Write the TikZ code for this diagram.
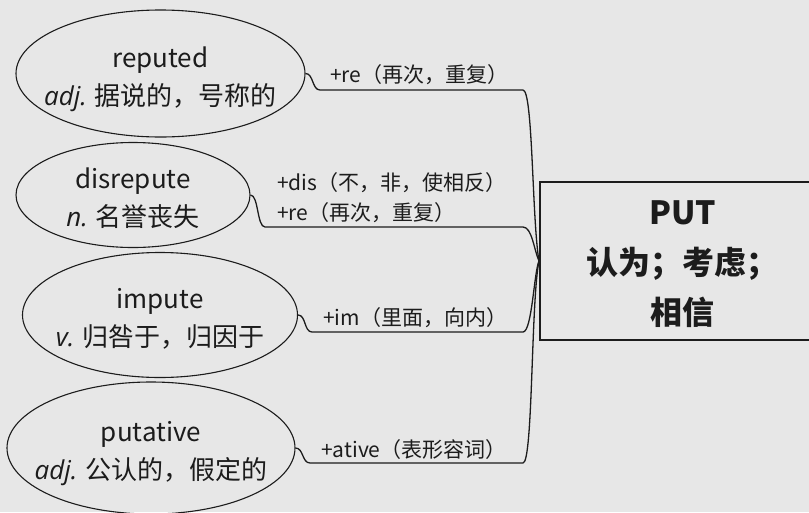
\documentclass[tikz,border=0pt]{standalone}
\usepackage{fontspec}
\setmainfont{Noto Sans CJK SC}
\newfontfamily\posfont{Open Sans}
\usetikzlibrary{shapes.geometric}
\definecolor{paper}{HTML}{E7E7E7}
\definecolor{ink}{HTML}{1C1C1C}
\newcommand{\pos}[1]{{\posfont\itshape #1}}
\tikzset{
  word/.style={ellipse, draw=ink, line width=1.1pt, inner xsep=-60pt, inner ysep=-25pt,
    text height=63pt, text depth=0pt,
    align=center, text=ink, font=\fontsize{26}{38}\selectfont},
  affix/.style={anchor=west, inner sep=0pt, align=left, text=ink,
    font=\fontsize{21}{30}\selectfont},
  link/.style={draw=ink, line width=1.3pt},
}

\begin{document}
\begin{tikzpicture}[x=1pt, y=-1pt]
  \useasboundingbox[fill=paper] (0,0) rectangle (809,512);

  % Coordinates
  \coordinate (A) at (160.5, 73.5);
  \coordinate (B) at (133.0, 195.0);
  \coordinate (C) at (160.0, 315.0);
  \coordinate (D) at (151.0, 448.0);
  \coordinate (E) at (539.0, 261.0);
  \coordinate (F) at (320.0, 90.0);
  \coordinate (G) at (523.0, 90.0);
  \coordinate (H) at (265.0, 227.0);
  \coordinate (I) at (523.0, 227.0);
  \coordinate (J) at (312.0, 332.0);
  \coordinate (K) at (523.0, 332.0);
  \coordinate (L) at (310.0, 463.0);
  \coordinate (M) at (523.0, 463.0);

  % Nodes
  \node[word, minimum width=289pt, minimum height=127pt] (reputed) at (A)
    {reputed\\\pos{adj.} 据说的，号称的};
  \node[word, minimum width=234pt, minimum height=105pt] (disrepute) at (B)
    {disrepute\\\pos{n.} 名誉丧失};
  \node[word, minimum width=275pt, minimum height=125pt] (impute) at (C)
    {impute\\\pos{v.} 归咎于，归因于};
  \node[word, minimum width=288pt, minimum height=132pt] (putative) at (D)
    {putative\\\pos{adj.} 公认的，假定的};
  \node[draw=ink, line width=2pt, anchor=west, minimum width=285pt, minimum height=158pt,
    text height=127pt, text depth=0pt, inner ysep=0pt,
    align=center, text=ink, font=\fontsize{32}{50}\selectfont\bfseries] (put) at (E)
    {PUT\\认为；考虑；\\相信};

  % Drawing
  \draw[link] (reputed.east) .. controls +(8,0) and +(-8,0) .. (F) -- (G)
    .. controls (533,90) and (532,220) .. (put.west);
  \draw[link] (disrepute.east) .. controls +(8,0) and +(-8,0) .. (H) -- (I)
    .. controls (532,227) and (534,250) .. (put.west);
  \draw[link] (impute.east) .. controls +(8,0) and +(-8,0) .. (J) -- (K)
    .. controls (532,332) and (534,272) .. (put.west);
  \draw[link] (putative.east) .. controls +(8,0) and +(-8,0) .. (L) -- (M)
    .. controls (533,463) and (531,300) .. (put.west);

  % Labels
  \node[affix] (re1) at (330, 75) {+re（再次，重复）};
  \node[affix] (dis) at (277, 198) {+dis（不，非，使相反）\\+re（再次，重复）};
  \node[affix] (im) at (323, 318) {+im（里面，向内）};
  \node[affix] (ative) at (321, 450) {+ative（表形容词）};
\end{tikzpicture}
\end{document}
